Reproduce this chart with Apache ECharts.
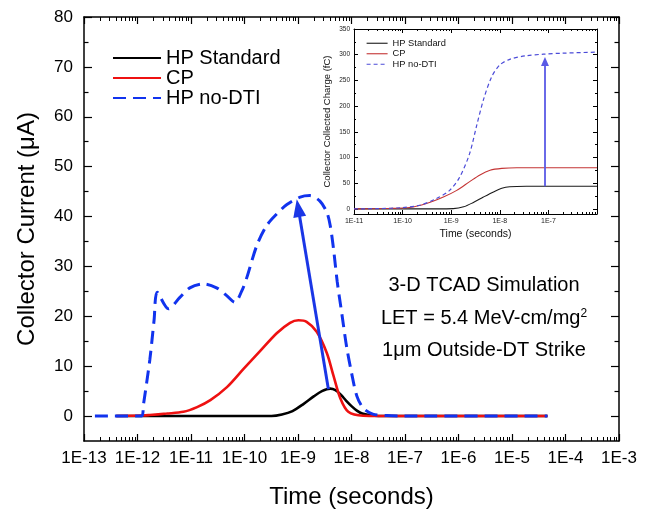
<!DOCTYPE html>
<html><head><meta charset="utf-8">
<script src="https://cdn.jsdelivr.net/npm/echarts@6/dist/echarts.min.js"></script>
<style>html,body{margin:0;padding:0;background:#fff}#c{width:649px;height:514px}</style>
</head><body><div id="c"></div>
<script>
// ---------- data ----------
const seriesNames = ['HP Standard', 'CP', 'HP no-DTI'];

// Main chart: time (s) vs collector current (uA)
const stdTime    = [4e-13, 1e-11, 3.2e-10, 5e-10, 7.9e-10, 1.26e-9, 2.0e-9, 2.8e-9, 4.0e-9, 5.0e-9, 6.3e-9, 7.9e-9, 1e-8, 1.26e-8, 1.58e-8, 2.24e-8, 3.2e-8, 1e-6, 4.6e-5];
const stdCurrent = [0, 0, 0, 0.3, 1.0, 2.4, 4.0, 5.0, 5.5, 5.2, 4.3, 3.1, 2.0, 1.1, 0.5, 0.15, 0, 0, 0];

const cpTime    = [4e-13, 1.26e-12, 1.7e-12, 3.5e-12, 7.2e-12, 1.3e-11, 2.3e-11, 4.7e-11, 9.5e-11, 1.95e-10, 4.0e-10, 7.1e-10, 1.02e-9, 1.45e-9, 2.24e-9, 3.47e-9, 4.6e-9, 6.2e-9, 8.7e-9, 1.66e-8, 3.2e-8, 1e-6, 4.6e-5];
const cpCurrent = [0, 0.1, 0.2, 0.5, 0.85, 1.8, 3.2, 5.8, 9.4, 13.0, 16.6, 18.7, 19.2, 18.9, 16.9, 12.6, 8.1, 3.5, 0.85, 0.05, 0, 0, 0];

const noDtiTime    = [1.6e-13, 1.2e-12, 1.29e-12, 1.7e-12, 2.04e-12, 2.34e-12, 3.8e-12, 6.2e-12, 9.5e-12, 1.7e-11, 3.0e-11, 4.7e-11, 6.6e-11, 8.9e-11, 1.1e-10, 1.7e-10, 2.6e-10, 4.0e-10, 6.2e-10, 1.1e-9, 1.66e-9, 2.57e-9, 3.47e-9, 4.0e-9, 4.6e-9, 5.4e-9, 6.6e-9, 8.1e-9, 1e-8, 1.26e-8, 1.66e-8, 2.5e-8, 4.6e-8, 1e-7, 4.6e-5];
const noDtiCurrent = [0, 0, 2.2, 11.3, 19.2, 24.8, 21.5, 23.8, 25.7, 26.5, 25.7, 24.1, 22.8, 25.1, 27.7, 34.2, 38.2, 40.5, 42.4, 43.9, 44.2, 43.1, 40.8, 38.2, 33.6, 27.0, 20.5, 13.9, 8.7, 4.0, 1.6, 0.4, 0.1, 0, 0];

// main arrow (tail at HP Standard peak, head at HP no-DTI peak)
const mainArrow = [[3.7e-9, 5.4], [1.01e-9, 41.7]];

// Inset: time (s) vs collected charge (fC)
const insStdTime   = [1e-11, 5e-10, 1.1e-9, 1.8e-9, 2.8e-9, 4.6e-9, 7.4e-9, 1.1e-8, 1.6e-8, 3.5e-8, 1e-6];
const insStdCharge = [0, 0, 0.5, 4, 12, 23, 33, 40, 43, 44, 44];

const insCpTime   = [1e-11, 5e-11, 1.4e-10, 3.1e-10, 6.9e-10, 1.3e-9, 2.4e-9, 3.9e-9, 6.3e-9, 1.1e-8, 2.24e-8, 1e-6];
const insCpCharge = [0, 0.8, 2.6, 10.4, 23, 36, 53, 66, 75, 78.7, 80, 80];

const insNoDtiTime   = [1e-11, 3.2e-11, 1e-10, 2.24e-10, 5e-10, 9.3e-10, 1.5e-9, 2.4e-9, 3.3e-9, 4.6e-9, 6.8e-9, 1e-8, 1.6e-8, 3.5e-8, 7.9e-8, 2e-7, 1e-6];
const insNoDtiCharge = [0, 0.5, 2.5, 7, 20, 36, 62, 108, 160, 212, 257, 280, 291, 298, 301, 303, 305];

const insetArrow = [[8.5e-8, 44], [8.5e-8, 287]];

// tick labels
const mainXDecades = [-13, -12, -11, -10, -9, -8, -7, -6, -5, -4, -3];
const mainYLabels  = [0, 10, 20, 30, 40, 50, 60, 70, 80];
const mainYMinor   = [5, 15, 25, 35, 45, 55, 65, 75];
const insXDecades  = [-11, -10, -9, -8, -7];
const insYLabels   = [0, 50, 100, 150, 200, 250, 300, 350];
const insYMinor    = [25, 75, 125, 175, 225, 275, 325];

const annotations = ['3-D TCAD Simulation', 'LET = 5.4 MeV-cm/mg{sup|2}', '1\u03bcm Outside-DT Strike'];

// ---------- helpers ----------
const FONT = "'Liberation Sans', Arial, sans-serif";
const zip = (a, b) => a.map((v, i) => [v, b[i]]);
function minorExps(lo, hi) {
  const r = [];
  for (let n = lo; n < hi; n++) for (let k = 2; k <= 9; k++) r.push(n + Math.log10(k));
  return r;
}
function tickAxis(grid, lo, hi, pos, o) {
  return Object.assign({
    type: 'value', gridIndex: grid, position: pos, min: lo, max: hi,
    axisLine: { show: !!o.line, onZero: false, lineStyle: { color: '#000', width: o.lw || 1 } },
    axisTick: Object.assign({ show: true, inside: true, length: o.len, lineStyle: { color: '#000', width: o.tw || 1 } },
      o.custom ? { customValues: o.custom } : {}),
    axisLabel: o.label || { show: false },
    splitLine: { show: false }
  }, o.interval ? { interval: o.interval } : {}, o.extra || {});
}
const hiddenLog = (grid, lo, hi) => ({
  type: 'log', logBase: 10, gridIndex: grid, min: lo, max: hi,
  axisLine: { show: false }, axisTick: { show: false }, axisLabel: { show: false }, splitLine: { show: false }
});

const C_BLACK = '#000000', C_RED = '#ee1111', C_BLUE = '#1133ee';
const CI_BLACK = '#1a1a1a', CI_RED = '#c43434', CI_BLUE = '#4b4bd8';
const noSymbol = { color: 'transparent', borderColor: 'transparent', borderWidth: 0, opacity: 0 };

const chart = echarts.init(document.getElementById('c'), null, { renderer: 'canvas' });
chart.setOption({
  animation: false,
  backgroundColor: '#fff',
  textStyle: { fontFamily: FONT },
  grid: [
    { left: 84, top: 17, width: 535, height: 433 },
    { left: 354, top: 29, width: 243, height: 185 }
  ],
  xAxis: [
    hiddenLog(0, 1e-13, 1e-3),
    tickAxis(0, -13, -3, 'bottom', {
      line: true, lw: 1.5, len: 7, tw: 1.2, interval: 1,
      label: { fontSize: 17, color: '#000', margin: 9, fontFamily: FONT,
        formatter: v => mainXDecades.includes(v) ? '1E' + v : '' },
      extra: { name: 'Time (seconds)', nameLocation: 'middle', nameGap: 44,
        nameTextStyle: { fontSize: 24, color: '#000', fontFamily: FONT } }
    }),
    tickAxis(0, -13, -3, 'bottom', { len: 4, custom: minorExps(-13, -3) }),
    tickAxis(0, -13, -3, 'top', { line: true, lw: 1.5, len: 7, tw: 1.2, interval: 1 }),
    tickAxis(0, -13, -3, 'top', { len: 4, custom: minorExps(-13, -3) }),
    hiddenLog(1, 1e-11, 1e-6),
    tickAxis(1, -11, -6, 'bottom', {
      line: true, lw: 1, len: 4, interval: 1,
      label: { fontSize: 7, color: '#222', margin: 4, fontFamily: FONT,
        formatter: v => insXDecades.includes(v) ? '1E' + v : '' },
      extra: { name: 'Time (seconds)', nameLocation: 'middle', nameGap: 15,
        nameTextStyle: { fontSize: 10.5, color: '#111', fontFamily: FONT } }
    }),
    tickAxis(1, -11, -6, 'bottom', { len: 2, custom: minorExps(-11, -6) }),
    tickAxis(1, -11, -6, 'top', { line: true, lw: 1, len: 4, interval: 1 }),
    tickAxis(1, -11, -6, 'top', { len: 2, custom: minorExps(-11, -6) })
  ],
  yAxis: [
    tickAxis(0, -5, 80, 'left', {
      line: true, lw: 1.5, len: 8, tw: 1.2, interval: 5, custom: mainYLabels,
      label: { fontSize: 17, color: '#000', margin: 11, fontFamily: FONT,
        formatter: v => mainYLabels.includes(v) ? String(v) : '' },
      extra: { name: 'Collector Current (\u03bcA)', nameLocation: 'middle', nameGap: 45,
        nameTextStyle: { fontSize: 24, color: '#000', fontFamily: FONT } }
    }),
    tickAxis(0, -5, 80, 'left', { len: 4.5, tw: 1.2, custom: mainYMinor }),
    tickAxis(0, -5, 80, 'right', { line: true, lw: 1.5, len: 8, tw: 1.2, interval: 5, custom: mainYLabels }),
    tickAxis(0, -5, 80, 'right', { len: 4.5, tw: 1.2, custom: mainYMinor }),
    tickAxis(1, -10, 350, 'left', {
      line: true, lw: 1, len: 4, interval: 10, custom: insYLabels,
      label: { fontSize: 6.5, color: '#222', margin: 4, fontFamily: FONT,
        formatter: v => insYLabels.includes(v) ? String(v) : '' },
      extra: { name: 'Collector Collected Charge (fC)', nameLocation: 'middle', nameGap: 22,
        nameTextStyle: { fontSize: 9.5, color: '#111', fontFamily: FONT } }
    }),
    tickAxis(1, -10, 350, 'left', { len: 2, custom: insYMinor }),
    tickAxis(1, -10, 350, 'right', { line: true, lw: 1, len: 4, interval: 10, custom: insYLabels }),
    tickAxis(1, -10, 350, 'right', { len: 2, custom: insYMinor })
  ],
  legend: [
    {
      orient: 'vertical', left: 112, top: 48, padding: 0, itemGap: 0,
      itemWidth: 48, itemHeight: 10, itemStyle: noSymbol,
      textStyle: { fontSize: 20, color: '#000', fontFamily: FONT, lineHeight: 20 },
      data: seriesNames
    },
    {
      orient: 'vertical', left: 366, top: 38, padding: 0, itemGap: 0,
      itemWidth: 21, itemHeight: 6, itemStyle: noSymbol,
      textStyle: { fontSize: 9.3, color: '#111', fontFamily: FONT, lineHeight: 10.5 },
      data: [
        { name: seriesNames[0], itemStyle: noSymbol, lineStyle: { color: CI_BLACK, width: 1.1, type: 'solid' } },
        { name: seriesNames[1], itemStyle: noSymbol, lineStyle: { color: CI_RED, width: 1.1, type: 'solid' } },
        { name: seriesNames[2], itemStyle: noSymbol, lineStyle: { color: CI_BLUE, width: 1.2, type: [4, 3] } }
      ]
    }
  ],
  series: [
    { type: 'line', name: seriesNames[0], xAxisIndex: 0, yAxisIndex: 0, data: zip(stdTime, stdCurrent),
      symbol: 'none', smooth: 0.3, color: C_BLACK, lineStyle: { color: C_BLACK, width: 2.6 }, z: 2 },
    { type: 'line', name: seriesNames[1], xAxisIndex: 0, yAxisIndex: 0, data: zip(cpTime, cpCurrent),
      symbol: 'none', smooth: 0.3, color: C_RED, lineStyle: { color: C_RED, width: 2.6 }, z: 3 },
    { type: 'line', name: seriesNames[2], xAxisIndex: 0, yAxisIndex: 0, data: zip(noDtiTime, noDtiCurrent),
      symbol: 'none', smooth: 0.3, color: C_BLUE, lineStyle: { color: C_BLUE, width: 3, type: [13, 7] }, z: 4,
      markLine: {
        silent: true, animation: false, symbol: ['none', 'triangle'], symbolSize: [13, 18],
        label: { show: false }, emphasis: { disabled: true },
        lineStyle: { type: 'solid', width: 3, color: '#1a36e6' },
        data: [[{ coord: mainArrow[0] }, { coord: mainArrow[1] }]]
      } },
    { type: 'line', name: seriesNames[0], xAxisIndex: 5, yAxisIndex: 4, data: zip(insStdTime, insStdCharge),
      symbol: 'none', smooth: 0.3, color: CI_BLACK, lineStyle: { color: CI_BLACK, width: 1.1 }, z: 2 },
    { type: 'line', name: seriesNames[1], xAxisIndex: 5, yAxisIndex: 4, data: zip(insCpTime, insCpCharge),
      symbol: 'none', smooth: 0.3, color: CI_RED, lineStyle: { color: CI_RED, width: 1.1 }, z: 3 },
    { type: 'line', name: seriesNames[2], xAxisIndex: 5, yAxisIndex: 4, data: zip(insNoDtiTime, insNoDtiCharge),
      symbol: 'none', smooth: 0.3, color: CI_BLUE, lineStyle: { color: CI_BLUE, width: 1.2, type: [4, 3] }, z: 4,
      markLine: {
        silent: true, animation: false, symbol: ['none', 'triangle'], symbolSize: [8, 9],
        label: { show: false }, emphasis: { disabled: true },
        lineStyle: { type: 'solid', width: 1.8, color: '#5a5ae6' },
        data: [[{ coord: insetArrow[0] }, { coord: insetArrow[1] }]]
      } }
  ],
  graphic: annotations.map((t, i) => ({
    type: 'text', x: 484, y: [285, 318, 350][i], silent: true,
    style: {
      text: t, fontSize: 20, fontFamily: FONT, fill: '#000',
      align: 'center', verticalAlign: 'middle', textAlign: 'center', textVerticalAlign: 'middle',
      rich: { sup: { fontSize: 12, verticalAlign: 'top', fontFamily: FONT, fill: '#000' } }
    }
  }))
});
</script>
</body></html>
